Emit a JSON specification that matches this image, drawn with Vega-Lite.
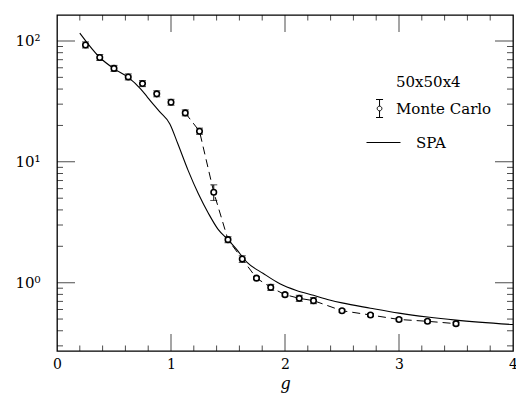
{
  "$schema": "https://vega.github.io/schema/vega-lite/v6.json",
  "width": 456,
  "height": 336,
  "autosize": {"type": "none"},
  "padding": {"left": 57, "top": 15, "right": 3, "bottom": 42},
  "background": "white",
  "datasets": {
    "spa": [
      {"g": 0.2, "v": 116, "series": "SPA"},
      {"g": 0.375, "v": 73, "series": "SPA"},
      {"g": 0.5, "v": 59, "series": "SPA"},
      {"g": 0.625, "v": 50, "series": "SPA"},
      {"g": 0.735, "v": 40, "series": "SPA"},
      {"g": 0.794, "v": 34.2, "series": "SPA"},
      {"g": 0.9, "v": 26, "series": "SPA"},
      {"g": 0.99, "v": 20.6, "series": "SPA"},
      {"g": 1.06, "v": 14.1, "series": "SPA"},
      {"g": 1.15, "v": 8.5, "series": "SPA"},
      {"g": 1.24, "v": 5.44, "series": "SPA"},
      {"g": 1.33, "v": 3.72, "series": "SPA"},
      {"g": 1.41, "v": 2.79, "series": "SPA"},
      {"g": 1.5, "v": 2.27, "series": "SPA"},
      {"g": 1.57, "v": 1.91, "series": "SPA"},
      {"g": 1.665, "v": 1.48, "series": "SPA"},
      {"g": 1.81, "v": 1.19, "series": "SPA"},
      {"g": 1.955, "v": 0.98, "series": "SPA"},
      {"g": 2.1, "v": 0.863, "series": "SPA"},
      {"g": 2.25, "v": 0.786, "series": "SPA"},
      {"g": 2.39, "v": 0.72, "series": "SPA"},
      {"g": 2.5, "v": 0.68, "series": "SPA"},
      {"g": 2.75, "v": 0.615, "series": "SPA"},
      {"g": 3.0, "v": 0.56, "series": "SPA"},
      {"g": 3.25, "v": 0.52, "series": "SPA"},
      {"g": 3.5, "v": 0.49, "series": "SPA"},
      {"g": 4.0, "v": 0.45, "series": "SPA"}
    ],
    "mc": [
      {"g": 0.25, "v": 92.7, "lo": 87.5, "hi": 98.2},
      {"g": 0.375, "v": 73.0, "lo": 68.9, "hi": 77.3},
      {"g": 0.5, "v": 59.3, "lo": 56.0, "hi": 62.8},
      {"g": 0.625, "v": 50.4, "lo": 47.6, "hi": 53.4},
      {"g": 0.75, "v": 44.4, "lo": 41.9, "hi": 47.0},
      {"g": 0.875, "v": 36.5, "lo": 34.5, "hi": 38.7},
      {"g": 1.0, "v": 31.1, "lo": 29.4, "hi": 32.9},
      {"g": 1.125, "v": 25.4, "lo": 24.0, "hi": 26.9},
      {"g": 1.25, "v": 17.9, "lo": 16.9, "hi": 19.0},
      {"g": 1.375, "v": 5.6, "lo": 4.79, "hi": 6.45},
      {"g": 1.5, "v": 2.27, "lo": 2.14, "hi": 2.4},
      {"g": 1.625, "v": 1.57, "lo": 1.47, "hi": 1.67},
      {"g": 1.75, "v": 1.09, "lo": 1.06, "hi": 1.12},
      {"g": 1.875, "v": 0.914, "lo": 0.863, "hi": 0.968},
      {"g": 2.0, "v": 0.796, "lo": 0.773, "hi": 0.819},
      {"g": 2.125, "v": 0.742, "lo": 0.7, "hi": 0.786},
      {"g": 2.25, "v": 0.71, "lo": 0.67, "hi": 0.752},
      {"g": 2.5, "v": 0.586, "lo": 0.569, "hi": 0.603},
      {"g": 2.75, "v": 0.54, "lo": 0.524, "hi": 0.556},
      {"g": 3.0, "v": 0.496, "lo": 0.482, "hi": 0.51},
      {"g": 3.25, "v": 0.479, "lo": 0.465, "hi": 0.493},
      {"g": 3.5, "v": 0.458, "lo": 0.445, "hi": 0.471}
    ],
    "xticks": [
      {"t": 0.2, "major": false}, {"t": 0.4, "major": false}, {"t": 0.6, "major": false}, {"t": 0.8, "major": false},
      {"t": 1, "major": true},
      {"t": 1.2, "major": false}, {"t": 1.4, "major": false}, {"t": 1.6, "major": false}, {"t": 1.8, "major": false},
      {"t": 2, "major": true},
      {"t": 2.2, "major": false}, {"t": 2.4, "major": false}, {"t": 2.6, "major": false}, {"t": 2.8, "major": false},
      {"t": 3, "major": true},
      {"t": 3.2, "major": false}, {"t": 3.4, "major": false}, {"t": 3.6, "major": false}, {"t": 3.8, "major": false}
    ],
    "yticks": [
      {"t": 0.3, "major": false}, {"t": 0.4, "major": false}, {"t": 0.5, "major": false}, {"t": 0.6, "major": false},
      {"t": 0.7, "major": false}, {"t": 0.8, "major": false}, {"t": 0.9, "major": false},
      {"t": 1, "major": true},
      {"t": 2, "major": false}, {"t": 3, "major": false}, {"t": 4, "major": false}, {"t": 5, "major": false},
      {"t": 6, "major": false}, {"t": 7, "major": false}, {"t": 8, "major": false}, {"t": 9, "major": false},
      {"t": 10, "major": true},
      {"t": 20, "major": false}, {"t": 30, "major": false}, {"t": 40, "major": false}, {"t": 50, "major": false},
      {"t": 60, "major": false}, {"t": 70, "major": false}, {"t": 80, "major": false}, {"t": 90, "major": false},
      {"t": 100, "major": true}
    ]
  },
  "layer": [
    {
      "data": {"name": "spa"},
      "mark": {"type": "line", "strokeWidth": 1.1, "interpolate": "monotone"},
      "encoding": {
        "x": {
          "field": "g", "type": "quantitative", "title": "g",
          "scale": {"domain": [0, 4], "nice": false, "zero": false},
          "axis": {
            "orient": "bottom", "title": "g",
            "values": [0, 1, 2, 3, 4], "format": "d",
            "ticks": false,
            "labelPadding": 6, "labelFlush": false, "labelOverlap": false, "labelBound": false,
            "titleFontStyle": "italic", "titleFontWeight": "normal", "titleFontSize": 16,
            "titleBaseline": "alphabetic", "titleY": 37
          }
        },
        "y": {
          "field": "v", "type": "quantitative", "title": null,
          "scale": {"type": "log", "domain": [0.272, 164], "nice": false, "zero": false},
          "axis": {
            "orient": "left", "title": null,
            "values": [1, 10, 100],
            "labelExpr": "datum.value === 1 ? '10⁰' : datum.value === 10 ? '10¹' : '10²'",
            "ticks": false,
            "labelPadding": 17, "labelOverlap": false, "labelBound": false, "labelFontSize": 15
          }
        },
        "color": {
          "field": "series", "type": "nominal",
          "scale": {"domain": ["Monte Carlo", "SPA"], "range": ["black", "black"]},
          "legend": {
            "title": "50x50x4",
            "orient": "none", "legendX": 317, "legendY": 60,
            "padding": 0,
            "symbolType": "stroke", "symbolSize": 1156, "symbolStrokeWidth": 1,
            "labelFont": "DejaVu Serif", "labelFontSize": 15, "labelColor": "black", "labelOffset": 23,
            "titleFont": "DejaVu Serif", "titleFontSize": 15, "titleFontWeight": "normal", "titleColor": "black",
            "titlePadding": 9, "rowPadding": 13,
            "encode": {
              "title": {"update": {"dx": {"value": 22}}},
              "symbols": {"update": {
                "shape": {"signal": "datum.value === 'SPA' ? 'stroke' : 'M-0.44,-1L-0.44,-0.26M-0.44,0.26L-0.44,1M-0.83,-1L-0.05,-1M-0.83,1L-0.05,1M-0.7,0A0.26,0.26 0 1,0 -0.18,0A0.26,0.26 0 1,0 -0.7,0Z'"},
                "size": {"signal": "datum.value === 'SPA' ? 1156 : 324"},
                "fill": {"value": "transparent"},
                "stroke": {"value": "black"},
                "strokeWidth": {"value": 1}
              }},
              "labels": {"update": {"dx": {"signal": "datum.value === 'SPA' ? 0 : -20"}}}
            }
          }
        }
      }
    },
    {
      "data": {"name": "xticks"},
      "mark": {"type": "tick", "orient": "vertical", "thickness": 1, "color": "black", "clip": true},
      "encoding": {
        "x": {"field": "t", "type": "quantitative", "title": "g"},
        "y": {"datum": 0.272, "type": "quantitative", "title": null},
        "size": {"condition": {"test": "datum.major", "value": 34}, "value": 11}
      }
    },
    {
      "data": {"name": "xticks"},
      "mark": {"type": "tick", "orient": "vertical", "thickness": 1, "color": "black", "clip": true},
      "encoding": {
        "x": {"field": "t", "type": "quantitative", "title": "g"},
        "y": {"datum": 164, "type": "quantitative", "title": null},
        "size": {"condition": {"test": "datum.major", "value": 34}, "value": 11}
      }
    },
    {
      "data": {"name": "yticks"},
      "mark": {"type": "tick", "orient": "horizontal", "thickness": 1, "color": "black", "clip": true},
      "encoding": {
        "y": {"field": "t", "type": "quantitative", "title": null},
        "x": {"datum": 0, "type": "quantitative", "title": "g"},
        "size": {"condition": {"test": "datum.major", "value": 36}, "value": 12}
      }
    },
    {
      "data": {"name": "yticks"},
      "mark": {"type": "tick", "orient": "horizontal", "thickness": 1, "color": "black", "clip": true},
      "encoding": {
        "y": {"field": "t", "type": "quantitative", "title": null},
        "x": {"datum": 4, "type": "quantitative", "title": "g"},
        "size": {"condition": {"test": "datum.major", "value": 36}, "value": 12}
      }
    },
    {
      "data": {"name": "mc"},
      "transform": [{"filter": "datum.g >= 1.1"}],
      "mark": {"type": "line", "strokeWidth": 1, "strokeDash": [8, 5], "color": "black"},
      "encoding": {
        "x": {"field": "g", "type": "quantitative", "title": "g"},
        "y": {"field": "v", "type": "quantitative", "title": null}
      }
    },
    {
      "data": {"name": "mc"},
      "mark": {"type": "rule", "color": "black", "strokeWidth": 1},
      "encoding": {
        "x": {"field": "g", "type": "quantitative", "title": "g"},
        "y": {"field": "lo", "type": "quantitative", "title": null},
        "y2": {"field": "hi"}
      }
    },
    {
      "data": {"name": "mc"},
      "mark": {"type": "tick", "orient": "horizontal", "size": 7, "thickness": 1, "color": "black"},
      "encoding": {
        "x": {"field": "g", "type": "quantitative", "title": "g"},
        "y": {"field": "lo", "type": "quantitative", "title": null}
      }
    },
    {
      "data": {"name": "mc"},
      "mark": {"type": "tick", "orient": "horizontal", "size": 7, "thickness": 1, "color": "black"},
      "encoding": {
        "x": {"field": "g", "type": "quantitative", "title": "g"},
        "y": {"field": "hi", "type": "quantitative", "title": null}
      }
    },
    {
      "data": {"name": "mc"},
      "mark": {"type": "point", "shape": "circle", "size": 30, "filled": false, "fill": "white", "fillOpacity": 1, "stroke": "black", "strokeWidth": 1.6, "opacity": 1},
      "encoding": {
        "x": {"field": "g", "type": "quantitative", "title": "g"},
        "y": {"field": "v", "type": "quantitative", "title": null}
      }
    }
  ],
  "config": {
    "view": {"stroke": "black", "strokeWidth": 1.3},
    "axis": {
      "domain": false, "grid": false,
      "labelColor": "black", "labelFont": "DejaVu Serif", "labelFontSize": 14,
      "titleFont": "DejaVu Serif", "titleColor": "black"
    }
  }
}
